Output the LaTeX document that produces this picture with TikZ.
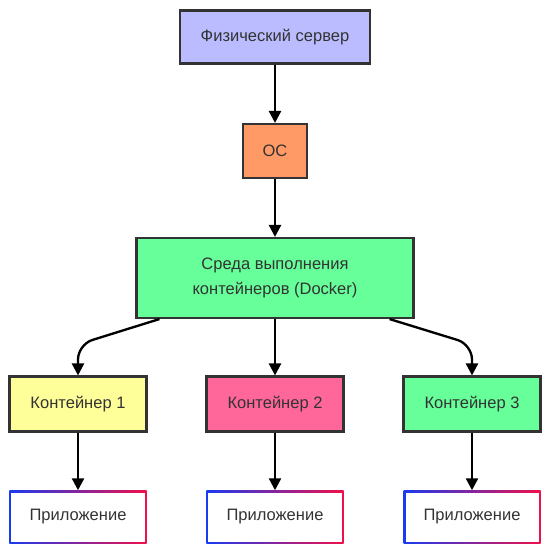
\documentclass[tikz,border=0pt]{standalone}
\usepackage{fontspec}
\setmainfont{Liberation Sans}
\usepackage{tikz}
\usetikzlibrary{arrows.meta,positioning}
\definecolor{edgegray}{HTML}{333333}
\definecolor{srvfill}{HTML}{BBBBFF}
\definecolor{osfill}{HTML}{FF9966}
\definecolor{envfill}{HTML}{66FF99}
\definecolor{cyfill}{HTML}{FFFF99}
\definecolor{cpfill}{HTML}{FF6699}
\definecolor{appblue}{HTML}{1A3BF0}
\definecolor{appred}{HTML}{F0104A}
\tikzset{
  box/.style={draw=edgegray,line width=1.8pt,text=edgegray,align=center,
    font=\fontsize{14.1}{22}\selectfont},
  appbox/.style={text=edgegray,font=\fontsize{14.1}{22}\selectfont,
    minimum width=4.11cm,minimum height=1.59cm,
    left color=appblue,right color=appred,
    path picture={\fill[white]
      ([shift={(0.06cm,0.06cm)}]path picture bounding box.south west) rectangle
      ([shift={(-0.06cm,-0.06cm)}]path picture bounding box.north east);}},
  arr/.style={line width=2pt,-{Triangle[length=0.36cm,width=0.36cm]}}
}

\begin{document}
\begin{tikzpicture}[x=0.03cm,y=-0.03cm]
\useasboundingbox (0,0) rectangle (552,555);

\node[box,fill=srvfill,minimum width=5.7cm,minimum height=1.59cm] (srv) at (275,37) {Физический сервер};
\node[box,fill=osfill,minimum width=1.92cm,minimum height=1.62cm] (os) at (275,151) {ОС};
\node[box,fill=envfill,minimum width=8.31cm,minimum height=2.4cm] (env) at (275,278) {Среда выполнения\\контейнеров (Docker)};

\node[box,fill=cyfill,minimum width=4.11cm,minimum height=1.65cm] (c1) at (78,404) {Контейнер 1};
\node[box,fill=cpfill,minimum width=4.11cm,minimum height=1.65cm] (c2) at (275,404) {Контейнер 2};
\node[box,fill=envfill,minimum width=4.11cm,minimum height=1.65cm] (c3) at (472,404) {Контейнер 3};

\node[appbox] (app1) at (78,517) {Приложение};
\node[appbox] (app2) at (275,517) {Приложение};
\node[appbox] (app3) at (472,517) {Приложение};

% stack
\draw[arr] (srv) -- (os);
\draw[arr] (os) -- (env);

% containers
\draw[arr,rounded corners=0.45cm] ([xshift=0.72cm]env.south west) -- ([yshift=0.93cm]c1.north) -- (c1.north);
\draw[arr] (env) -- (c2);
\draw[arr,rounded corners=0.45cm] ([xshift=-0.75cm]env.south east) -- ([yshift=0.93cm]c3.north) -- (c3.north);

% apps
\draw[arr] (c1) -- (app1);
\draw[arr] (c2) -- (app2);
\draw[arr] (c3) -- (app3);
\end{tikzpicture}
\end{document}
